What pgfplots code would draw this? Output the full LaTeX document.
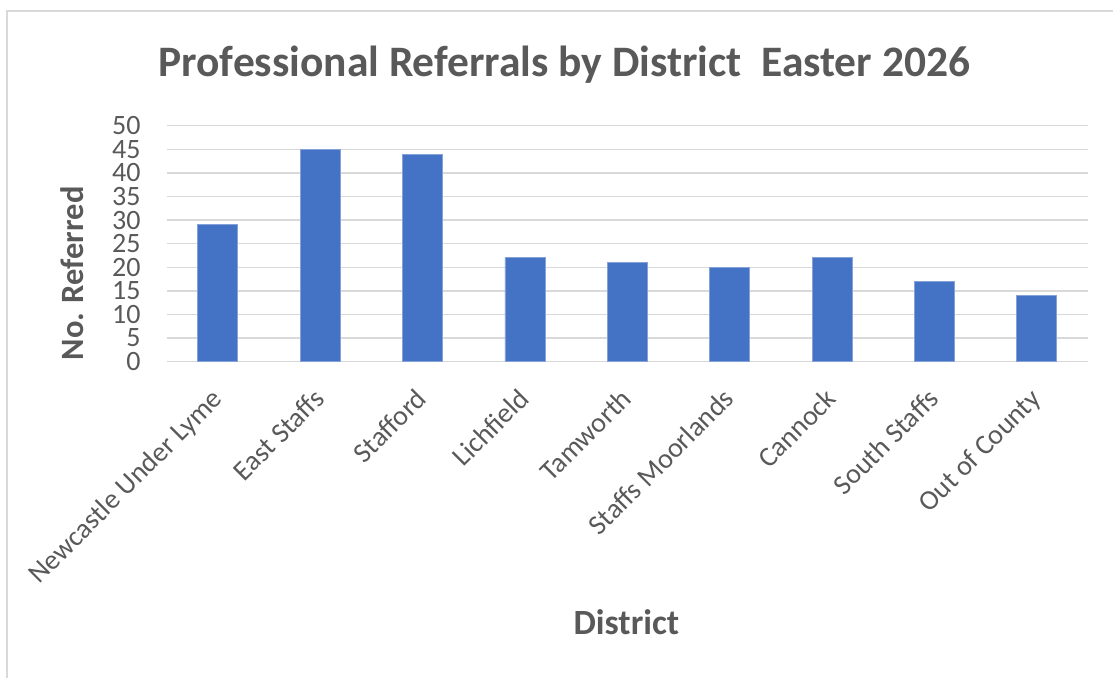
\documentclass[border=0pt]{standalone}
\usepackage{pgfplots}
\pgfplotsset{compat=1.18}
\usepackage{fontspec}
\setmainfont{Carlito}
\definecolor{barblue}{HTML}{4472C4}
\definecolor{txtgray}{HTML}{595959}
\definecolor{gridgray}{HTML}{D9D9D9}
\begin{document}
\begin{tikzpicture}[x=1pt,y=1pt]
\path[use as bounding box] (0,0) rectangle (1113,677);
\draw[gridgray, line width=2pt] (7,-5) -- (7,666) -- (1120,666);
\node[text=txtgray, font=\fontsize{43.5}{43.5}\selectfont\bfseries, anchor=base, inner sep=0pt] at (564.4,600.3) {Professional Referrals by District\ \ Easter 2026};
\begin{axis}[
  at={(166.7pt,315.3pt)}, anchor=south west,
  scale only axis, width=921.3pt, height=236pt,
  xmin=-0.5, xmax=8.5, ymin=0, ymax=50,
  ytick={0,5,...,50},
  xtick={0,...,8},
  xticklabels={Newcastle Under Lyme, East Staffs, Stafford, Lichfield, Tamworth, Staffs Moorlands, Cannock, South Staffs, Out of County},
  ymajorgrids, grid style={gridgray, line width=1.5pt},
  axis line style={draw=none},
  major tick length=0pt,
  ybar, bar width=40pt,
  /pgf/number format/assume math mode=true,
  tick label style={text=txtgray, font=\fontsize{28}{28}\selectfont},
  yticklabel style={anchor=east, inner sep=0pt, xshift=-26pt},
  xticklabel style={yshift=-25pt, xshift=-8pt, rotate=45, anchor=north east, inner sep=0pt},
  xlabel={District}, ylabel={No. Referred},
  label style={text=txtgray, inner sep=0pt},
  xlabel style={font=\fontsize{35.5}{35.5}\selectfont\bfseries, at={(axis description cs:0.499,-1.158)}, anchor=base},
  ylabel style={font=\fontsize{32.5}{32.5}\selectfont\bfseries, at={(axis description cs:-0.0905,0.374)}, anchor=base},
]
\addplot[fill=barblue, draw=barblue!65!white, line width=0.8pt] coordinates {
(0,29) (1,45) (2,44) (3,22) (4,21) (5,20) (6,22) (7,17) (8,14)};
\end{axis}
\end{tikzpicture}
\end{document}
